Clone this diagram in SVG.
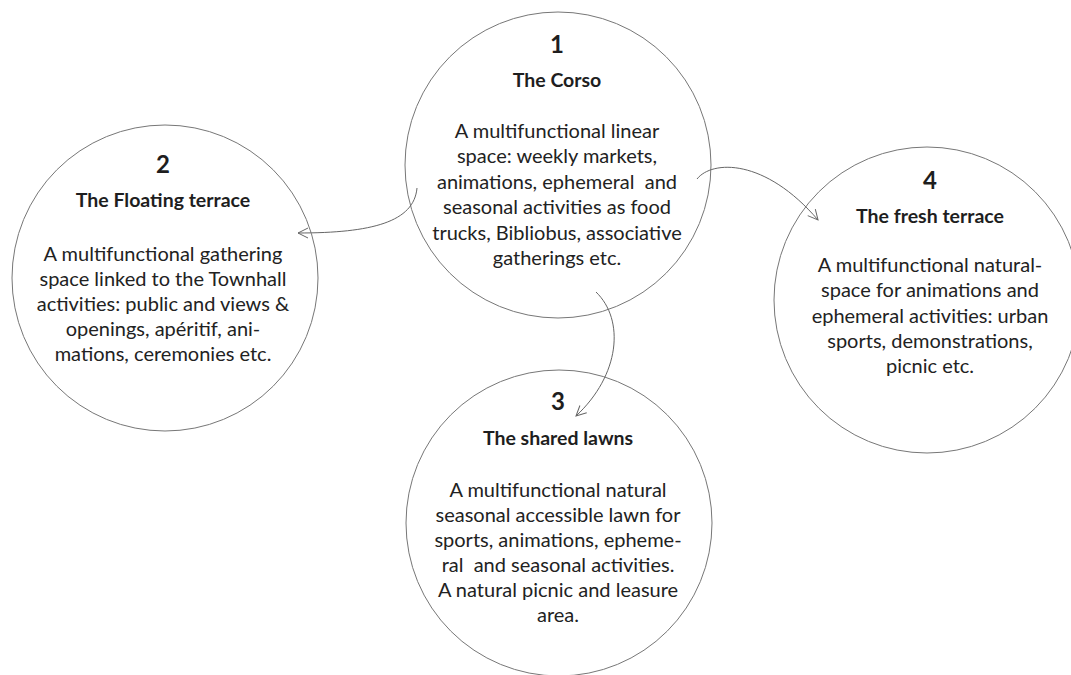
<svg xmlns="http://www.w3.org/2000/svg" width="1071" height="675" viewBox="0 0 1071 675">
<style>
.c{fill:#fff;stroke:#777;stroke-width:1}
.n{font-family:Lato,"Liberation Sans",sans-serif;font-weight:bold;font-size:24px;fill:#1e1e1e;text-anchor:middle}
.t{font-family:Lato,"Liberation Sans",sans-serif;font-weight:bold;font-size:19.5px;fill:#1e1e1e;text-anchor:middle}
.b{font-family:Lato,"Liberation Sans",sans-serif;font-size:20px;fill:#222;text-anchor:middle;white-space:pre}
.a{fill:none;stroke:#666;stroke-width:1}
</style>
<defs>
<marker id="ah" viewBox="0 0 12 12" refX="11" refY="6" markerWidth="12" markerHeight="12" markerUnits="userSpaceOnUse" orient="auto">
<path d="M1,1 L11,6 L1,11" fill="none" stroke="#666" stroke-width="1"/>
</marker>
</defs>
<g id="node1">
<circle class="c" cx="558" cy="165" r="153"/>
<text class="n" x="557" y="53">1</text>
<text class="t" x="557" y="87">The Corso</text>
<text class="b" x="557" y="138">A multifunctional linear</text>
<text class="b" x="557" y="163">space: weekly markets,</text>
<text class="b" x="557" y="189">animations, ephemeral  and</text>
<text class="b" x="557" y="214">seasonal activities as food</text>
<text class="b" x="557" y="240">trucks, Bibliobus, associative</text>
<text class="b" x="557" y="265">gatherings etc.</text>
</g>
<g id="node2">
<circle class="c" cx="165" cy="278" r="153"/>
<text class="n" x="163" y="173">2</text>
<text class="t" x="163" y="207">The Floating terrace</text>
<text class="b" x="163" y="261">A multifunctional gathering</text>
<text class="b" x="163" y="286">space linked to the Townhall</text>
<text class="b" x="163" y="311">activities: public and views &amp;</text>
<text class="b" x="163" y="336">openings, apéritif, ani-</text>
<text class="b" x="163" y="361">mations, ceremonies etc.</text>
</g>
<g id="node3">
<circle class="c" cx="559" cy="523" r="153"/>
<text class="n" x="558" y="410">3</text>
<text class="t" x="558" y="445">The shared lawns</text>
<text class="b" x="558" y="497">A multifunctional natural</text>
<text class="b" x="558" y="522">seasonal accessible lawn for</text>
<text class="b" x="558" y="547">sports, animations, epheme-</text>
<text class="b" x="558" y="572">ral  and seasonal activities.</text>
<text class="b" x="558" y="597">A natural picnic and leasure</text>
<text class="b" x="558" y="622">area.</text>
</g>
<g id="node4">
<circle class="c" cx="927" cy="300" r="153"/>
<text class="n" x="930" y="189">4</text>
<text class="t" x="930" y="223">The fresh terrace</text>
<text class="b" x="930" y="272">A multifunctional natural-</text>
<text class="b" x="930" y="297">space for animations and</text>
<text class="b" x="930" y="323">ephemeral activities: urban</text>
<text class="b" x="930" y="348">sports, demonstrations,</text>
<text class="b" x="930" y="373">picnic etc.</text>
</g>
<g id="connectors">
<path class="a" d="M417,188 C414,222 372,233 298,233" marker-end="url(#ah)"/>
<path class="a" d="M697,179 C712,160 765,158 818,220" marker-end="url(#ah)"/>
<path class="a" d="M596,292 C625,320 620,375 576,416" marker-end="url(#ah)"/>
</g>
</svg>
